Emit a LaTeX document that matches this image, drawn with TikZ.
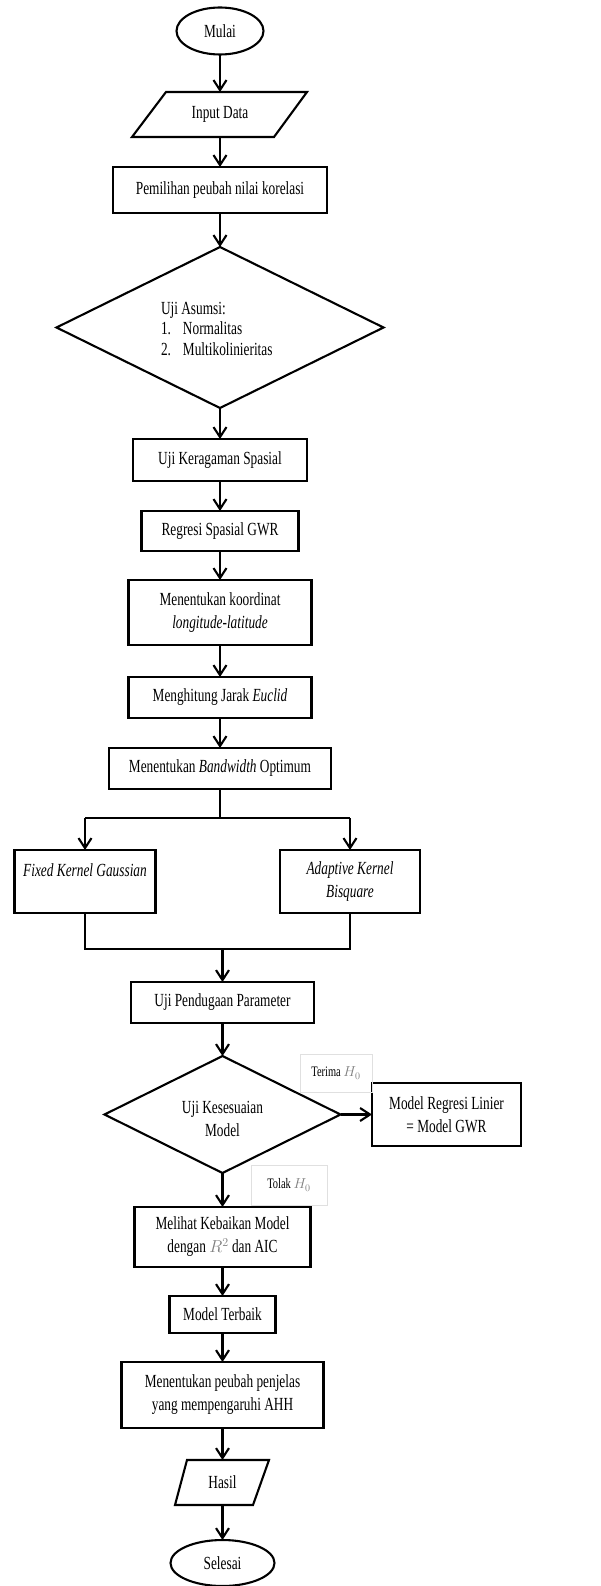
\documentclass[tikz,border=0pt]{standalone}
\usepackage{fontspec}
\setmainfont{Liberation Serif}[FakeStretch=0.72]
\usetikzlibrary{shapes.geometric,arrows.meta}
\begin{document}
\begin{tikzpicture}[x=1pt,y=-1pt,
  every node/.style={font=\fontsize{18.5}{23}\selectfont, inner sep=0pt, outer sep=0pt},
  proc/.style={draw, line width=2.1pt, rectangle, align=center},
  term/.style={draw, line width=2.1pt, ellipse},
  deci/.style={draw, line width=2.1pt, diamond},
  lbl/.style={draw=black!12, line width=0.6pt, font=\fontsize{14.5}{16}\selectfont},
  arr/.style={-{Straight Barb[length=10pt,width=13pt]}, line width=2.1pt},
  ln/.style={line width=2.1pt, line join=miter}]
\useasboundingbox (0,0) rectangle (600,1586);
\fill[white] (0,0) rectangle (600,1586);

% upper spine x=220
\node[term, minimum width=87pt, minimum height=47pt] (mulai) at (220,31) {Mulai};
\node[minimum width=175pt, minimum height=45pt] (input) at (220,114.5) {Input Data};
\draw[ln] (166,92) -- (307,92) -- (274,137) -- (132,137) -- cycle;
\node[proc, minimum width=214pt, minimum height=46pt] (pemilihan) at (220,190) {Pemilihan peubah nilai korelasi};
\node[deci, minimum width=327pt, minimum height=161pt] (asumsi) at (220,327.5) {};
\node[anchor=west, align=left, font=\fontsize{18.5}{20.5}\selectfont] (asumsitxt) at (161,329)
  {Uji Asumsi:\\\makebox[22pt][l]{1.}Normalitas\\\makebox[22pt][l]{2.}Multikolinieritas};
\node[proc, minimum width=174pt, minimum height=42pt] (keragaman) at (220,460) {Uji Keragaman Spasial};
\node[proc, minimum width=157pt, minimum height=40pt] (regresi) at (220,531) {Regresi Spasial GWR};
\node[proc, minimum width=183pt, minimum height=65pt] (koordinat) at (220,612.5) {Menentukan koordinat\\\textit{longitude-latitude}};
\node[proc, minimum width=183pt, minimum height=41pt] (euclid) at (220,697.5) {Menghitung Jarak \textit{Euclid}};
\node[proc, minimum width=222pt, minimum height=41pt] (bandwidth) at (220,768.5) {Menentukan \textit{Bandwidth} Optimum};

% branches
\node[proc, minimum width=141pt, minimum height=63pt] (fixed) at (85,881.5) {\textit{Fixed Kernel Gaussian}\\\mbox{}};
\node[proc, minimum width=140pt, minimum height=63pt] (adaptive) at (350,881.5) {\textit{Adaptive Kernel}\\\textit{Bisquare}};
\coordinate (split) at (220,818);
\coordinate (sl) at (85,818);
\coordinate (sr) at (350,818);
\coordinate (jl) at (85,949);
\coordinate (jr) at (350,949);
\coordinate (jm) at (222.5,949);

% lower spine x=222.5
\node[proc, minimum width=183pt, minimum height=41pt] (pendugaan) at (222.5,1002.5) {Uji Pendugaan Parameter};
\node[deci, minimum width=236pt, minimum height=117pt] (kesesuaian) at (222.5,1114.5) {};
\node[align=center] (kesesuaiantxt) at (222.5,1118.5) {Uji Kesesuaian\\Model};
\node[proc, minimum width=149pt, minimum height=63pt] (linier) at (446.5,1114.5) {Model Regresi Linier\\= Model GWR};
\node[lbl, minimum width=72pt, minimum height=38pt] (terima) at (336,1073) {Terima \textcolor{gray}{$H_0$}};
\node[lbl, minimum width=76pt, minimum height=40pt] (tolak) at (289,1185) {Tolak \textcolor{gray}{$H_0$}};
\node[proc, minimum width=176pt, minimum height=60pt] (melihat) at (222.5,1237) {Melihat Kebaikan Model\\dengan \textcolor{gray}{$R^2$} dan AIC};
\node[proc, minimum width=106pt, minimum height=37pt] (terbaik) at (222.5,1314.5) {Model Terbaik};
\node[proc, minimum width=202pt, minimum height=66pt] (penjelas) at (222.5,1395) {Menentukan peubah penjelas\\yang mempengaruhi AHH};
\node[minimum width=94pt, minimum height=45pt] (hasil) at (222.5,1482.5) {Hasil};
\draw[ln] (187,1460) -- (269,1460) -- (253,1505) -- (175,1505) -- cycle;
\node[term, minimum width=104pt, minimum height=46pt] (selesai) at (222.5,1563) {Selesai};

% connectors
\draw[arr] (mulai) -- (input);
\draw[arr] (input) -- (pemilihan);
\draw[arr] (pemilihan) -- (asumsi);
\draw[arr] (asumsi) -- (keragaman);
\draw[arr] (keragaman) -- (regresi);
\draw[arr] (regresi) -- (koordinat);
\draw[arr] (koordinat) -- (euclid);
\draw[arr] (euclid) -- (bandwidth);
\draw[ln] (bandwidth) -- (split);
\draw[ln] (sl) -- (sr);
\draw[arr] (sl) -- (fixed);
\draw[arr] (sr) -- (adaptive);
\draw[ln] (fixed) -- (jl) -- (jr) -- (adaptive);
\draw[arr] (jm) -- (pendugaan);
\draw[arr] (pendugaan) -- (kesesuaian);
\draw[arr] (kesesuaian) -- (linier);
\draw[arr] (kesesuaian) -- (melihat);
\draw[arr] (melihat) -- (terbaik);
\draw[arr] (terbaik) -- (penjelas);
\draw[arr] (penjelas) -- (hasil);
\draw[arr] (hasil) -- (selesai);
\end{tikzpicture}
\end{document}
